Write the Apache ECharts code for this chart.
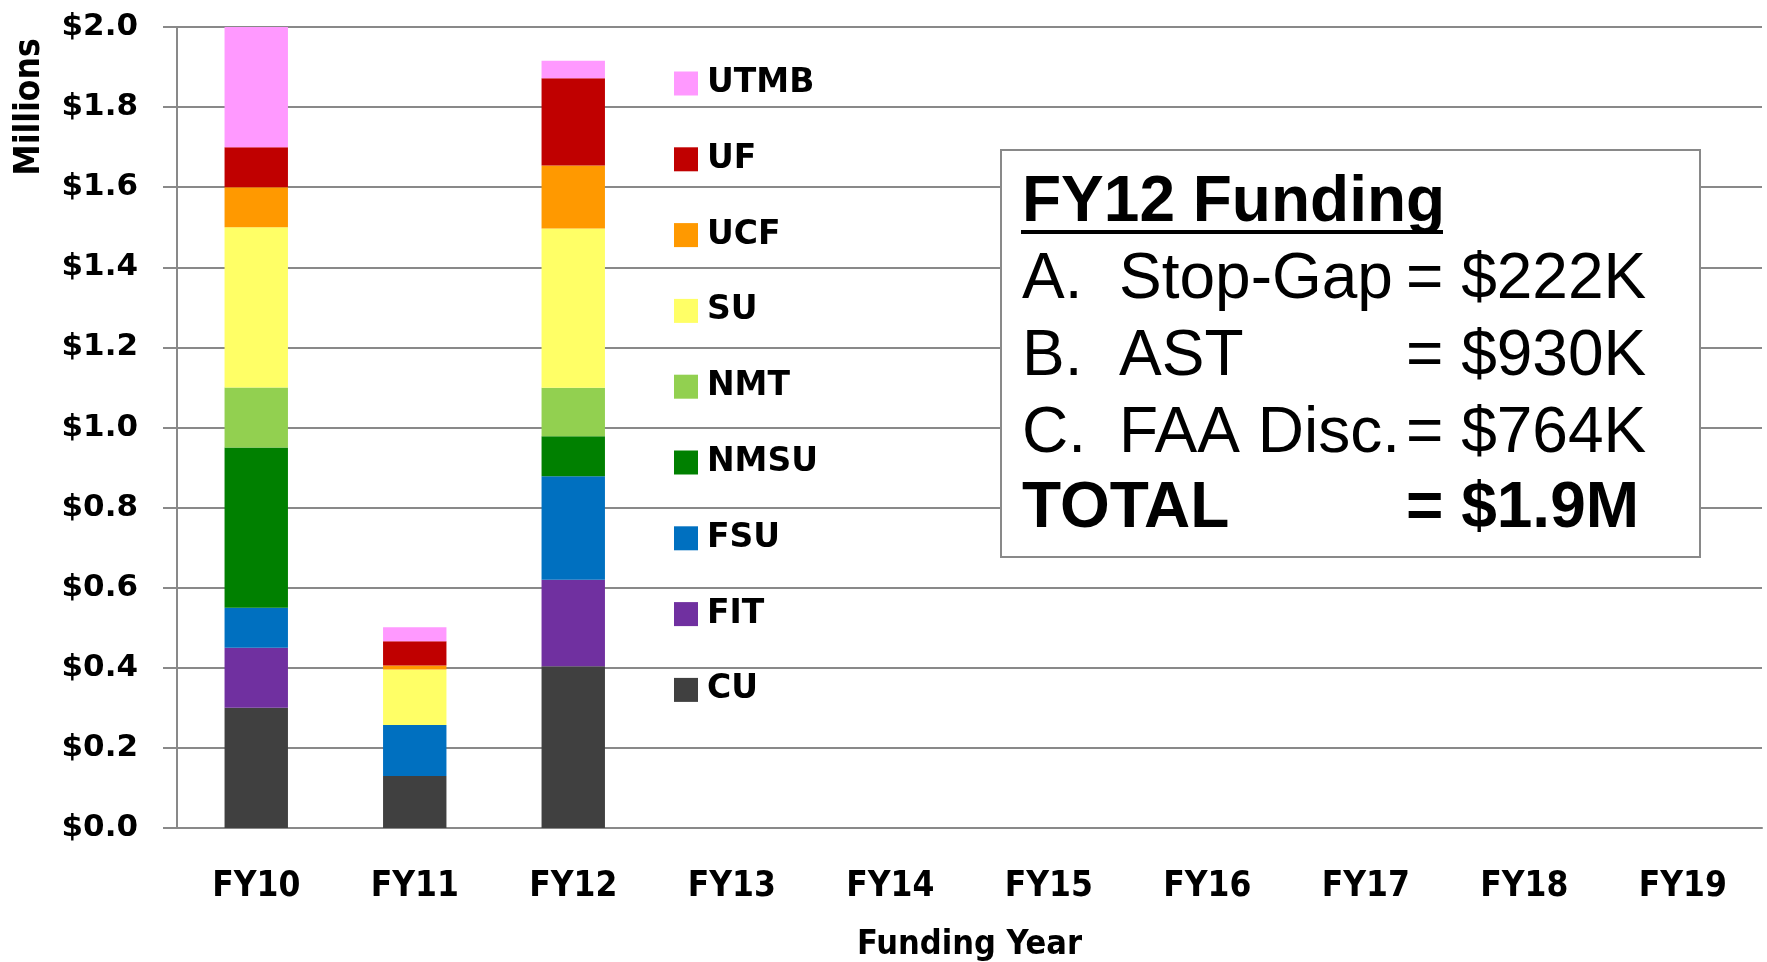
<!DOCTYPE html>
<html>
<head>
<meta charset="utf-8">
<title>Funding Year</title>
<script src="https://cdn.jsdelivr.net/npm/echarts@6/dist/echarts.min.js"></script>
<style>
  html, body { margin: 0; padding: 0; background: #fff; }
  #chart { width: 1767px; height: 962px; }
</style>
</head>
<body>
<div id="chart"></div>
<script>
// 类目 / categories
var years = ['FY10', 'FY11', 'FY12', 'FY13', 'FY14', 'FY15', 'FY16', 'FY17', 'FY18', 'FY19'];
var yTicks = [0, 0.2, 0.4, 0.6, 0.8, 1.0, 1.2, 1.4, 1.6, 1.8, 2.0];

// values in $ millions, bottom of the stack first
var cu   = [0.30, 0.13, 0.404];
var fit  = [0.15, 0,    0.216];
var fsu  = [0.10, 0.127, 0.258];
var nmsu = [0.40, 0,    0.10];
var nmt  = [0.15, 0,    0.121];
var su   = [0.40, 0.139, 0.398];
var ucf  = [0.10, 0.01, 0.157];
var uf   = [0.10, 0.06, 0.218];
var utmb = [0.30, 0.035, 0.044];

var schools = ['CU', 'FIT', 'FSU', 'NMSU', 'NMT', 'SU', 'UCF', 'UF', 'UTMB'];
var schoolData = [cu, fit, fsu, nmsu, nmt, su, ucf, uf, utmb];
var colors = ['#404040', '#7030A0', '#0070C0', '#008000', '#92D050', '#FFFF66', '#FF9900', '#C00000', '#FF99FF'];

// text box
var boxTitle = 'FY12 Funding';
var boxLetters = ['A.', 'B.', 'C.', 'TOTAL'];
var boxNames = ['Stop-Gap', 'AST', 'FAA Disc.', ''];
var boxValues = ['= $222K', '= $930K', '= $764K', '= $1.9M'];

var gridColor = '#898989';
var narrow = "'Liberation Sans Narrow', 'DejaVu Sans Condensed', sans-serif";
var wide = "'DejaVu Sans', Verdana, sans-serif";

var chart = echarts.init(document.getElementById('chart'));

var series = schools.map(function (name, i) {
  return {
    name: name,
    type: 'bar',
    stack: 'total',
    barWidth: '40%',
    itemStyle: { color: colors[i] },
    data: schoolData[i]
  };
});

// text box graphics
var graphics = [{
  type: 'rect',
  shape: { x: 1001, y: 150, width: 699, height: 407 },
  style: { fill: '#fff', stroke: gridColor, lineWidth: 2 },
  z: 10
}, {
  type: 'text',
  style: { text: boxTitle, x: 1022, y: 226 - 23, font: 'bold 64px "Liberation Sans", Arial, sans-serif', fill: '#000', verticalAlign: 'middle' },
  z: 11
}, {
  type: 'rect',
  shape: { x: 1021, y: 230, width: 422, height: 4 },
  style: { fill: '#000' },
  z: 11
}, {
  type: 'text',
  style: {
    text: 'Millions', x: 30, y: 107, font: 'bold 35px ' + narrow, fill: '#000',
    align: 'center', verticalAlign: 'middle'
  },
  rotation: Math.PI / 2,
  originX: 30, originY: 107,
  z: 11
}];

var baselines = [303, 380, 457, 532];
boxLetters.forEach(function (letter, i) {
  var isTotal = i === boxLetters.length - 1;
  var font = (isTotal ? 'bold ' : '') + '64px "Liberation Sans", Arial, sans-serif';
  var y = baselines[i] - 23;
  graphics.push({ type: 'text', style: { text: letter, x: 1022, y: y, font: font, fill: '#000', verticalAlign: 'middle' }, z: 11 });
  if (boxNames[i]) {
    graphics.push({ type: 'text', style: { text: boxNames[i], x: 1119, y: y, font: font, fill: '#000', verticalAlign: 'middle' }, z: 11 });
  }
  graphics.push({ type: 'text', style: { text: boxValues[i], x: 1406, y: y, font: font, fill: '#000', verticalAlign: 'middle' }, z: 11 });
});

chart.setOption({
  animation: false,
  grid: { left: 177, right: 5, top: 27, bottom: 134, containLabel: false, outerBoundsMode: 'none' },
  legend: {
    orient: 'vertical',
    left: 669,
    top: 62,
    data: schools.slice().reverse(),
    icon: 'rect',
    itemWidth: 24,
    itemHeight: 24,
    itemGap: 42.8,
    selectedMode: false,
    textStyle: { fontFamily: wide, fontWeight: 'bold', fontSize: 33, color: '#000', lineHeight: 24, padding: [0, 0, 0, 4] }
  },
  xAxis: {
    type: 'category',
    data: years,
    name: 'Funding Year',
    nameLocation: 'middle',
    nameGap: 100,
    nameTextStyle: { fontFamily: narrow, fontWeight: 'bold', fontSize: 34, color: '#000' },
    axisLine: { lineStyle: { color: gridColor, width: 2 } },
    axisTick: { length: 13, lineStyle: { color: gridColor, width: 2 } },
    axisLabel: { fontFamily: narrow, fontWeight: 'bold', fontSize: 35, color: '#000', margin: 41, interval: 0 }
  },
  yAxis: {
    type: 'value',
    min: yTicks[0],
    max: yTicks[yTicks.length - 1],
    interval: 0.2,
    axisLine: { show: true, lineStyle: { color: gridColor, width: 2 } },
    axisTick: { show: true, length: 14, lineStyle: { color: gridColor, width: 2 } },
    splitLine: { lineStyle: { color: gridColor, width: 2 } },
    axisLabel: {
      fontFamily: wide, fontWeight: 'bold', fontSize: 31, color: '#000', margin: 39,
      formatter: function (v) { return '$' + v.toFixed(1); }
    }
  },
  graphic: graphics,
  series: series
});
</script>
</body>
</html>
